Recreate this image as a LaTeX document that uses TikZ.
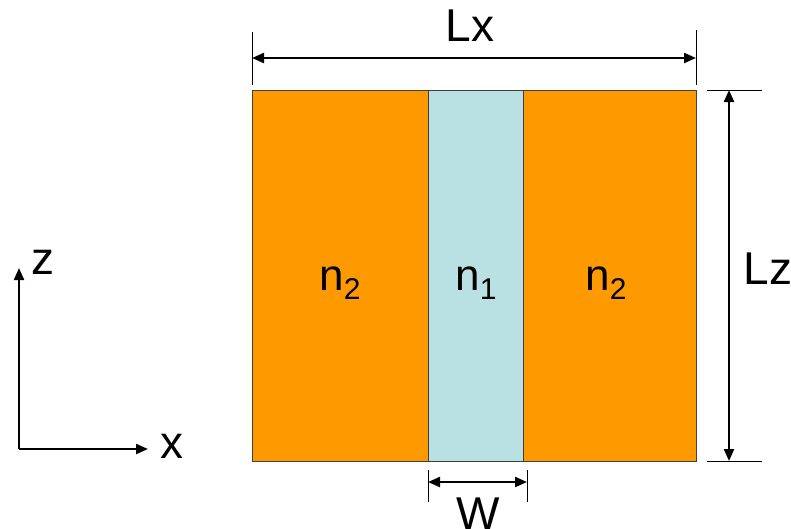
\documentclass[tikz,border=0pt]{standalone}
\usepackage{fontspec}
\setmainfont{Liberation Sans}
\usetikzlibrary{arrows.meta}
\definecolor{coreorange}{HTML}{FF9900}
\definecolor{corecyan}{HTML}{B9E0E3}
\begin{document}
\begin{tikzpicture}[x=1pt,y=-1pt,
  region/.style={draw=black!75,line width=0.8pt},
  dimline/.style={line width=2.2pt,{Triangle[length=12pt,width=10pt]}-{Triangle[length=12pt,width=10pt]}},
  axisline/.style={line width=2.2pt,-{Triangle[length=12pt,width=10pt]}},
  extline/.style={line width=1pt},
  lbl/.style={font=\fontsize{46}{46}\selectfont,inner sep=0pt},
  idx/.style={font=\fontsize{44}{44}\selectfont,inner sep=0pt}]
\useasboundingbox (0,0) rectangle (791,528);
% regions
\fill[coreorange] (252,90) rectangle (428,461);
\fill[corecyan] (428,90) rectangle (523,461);
\fill[coreorange] (523,90) rectangle (696,461);
\draw[region] (252,90) rectangle (696,461);
\draw[region] (428,90) -- (428,461);
\draw[region] (523,90) -- (523,461);
% labels
\newcommand{\subidx}[1]{n\raisebox{-9pt}{\fontsize{30}{30}\selectfont #1}}
\node[idx] (n2l) at (340,283) {\subidx{2}};
\node[idx] (n1) at (476,283) {\subidx{1}};
\node[idx] (n2r) at (606,283) {\subidx{2}};
% Lx dimension
\coordinate (lxa) at (252,58);
\coordinate (lxb) at (696,58);
\draw[extline] (252,32) -- (252,85);
\draw[extline] (696,30) -- (696,85);
\draw[dimline] (lxa) -- (lxb);
\node[lbl] (Lx) at (470,26) {Lx};
% Lz dimension
\coordinate (lza) at (729,90);
\coordinate (lzb) at (729,461);
\draw[extline] (707,90) -- (762,90);
\draw[extline] (707,461) -- (762,461);
\draw[dimline] (lza) -- (lzb);
\node[lbl] (Lz) at (768,269) {Lz};
% W dimension
\coordinate (wa) at (428,482);
\coordinate (wb) at (527,482);
\draw[extline] (428,470) -- (428,502);
\draw[extline] (527,470) -- (527,502);
\draw[dimline] (wa) -- (wb);
\node[lbl,anchor=base] (W) at (478,529) {W};
% axes
\coordinate (o) at (19,449);
\coordinate (zt) at (19,268);
\coordinate (xt) at (148,449);
\draw[axisline] (o) -- (zt);
\draw[axisline] (o) -- (xt);
\node[lbl] (zl) at (43,262) {z};
\node[lbl] (xl) at (172,446) {x};
\end{tikzpicture}
\end{document}
